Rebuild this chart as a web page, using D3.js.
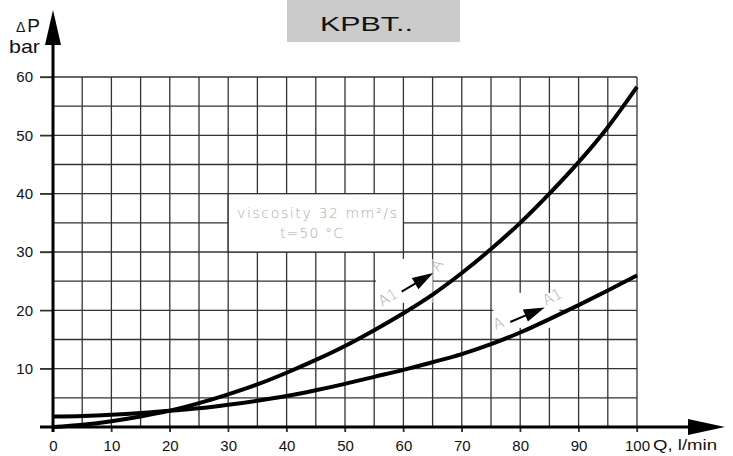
<!DOCTYPE html>
<html>
<head>
<meta charset="utf-8">
<title>KPBT.. pressure drop</title>
<script src="https://cdn.jsdelivr.net/npm/d3@7/dist/d3.min.js"></script>
<style>
    body {
        margin: 0;
        background-color: #fff;
    }

    svg {
        display: block;
        font-family: "Liberation Sans", Arial, sans-serif;
    }

    .grid line {
        stroke: #333;
        stroke-width: 1.3px;
    }

    .note {
        font-family: "DejaVu Sans", sans-serif;
        font-weight: 200;
        fill: #aaa;
    }
</style>
</head>
<body>
<svg width="733" height="456"></svg>
<script>
    // Q, l/min
    var flow = [0, 5, 10, 15, 20, 25, 30, 35, 40, 45, 50, 55, 60, 65, 70, 75, 80, 85, 90, 95, 100];
    // A1 -> A (steeper curve), bar
    var dpA1A = [0, 0.4, 1.0, 1.8, 2.8, 4.1, 5.6, 7.3, 9.3, 11.5, 13.9, 16.6, 19.5, 22.7, 26.4, 30.5, 35.0, 40.0, 45.4, 51.4, 58.3];
    // A -> A1, bar
    var dpAA1 = [1.8, 1.9, 2.1, 2.4, 2.8, 3.2, 3.8, 4.5, 5.3, 6.3, 7.4, 8.6, 9.8, 11.1, 12.5, 14.2, 16.2, 18.5, 20.9, 23.4, 26.0];

    var xTicks = [0, 10, 20, 30, 40, 50, 60, 70, 80, 90, 100];
    var yTicks = [10, 20, 30, 40, 50, 60];
    var gridX = d3.range(0, 101, 5);
    var gridY = d3.range(0, 61, 5);

    var titulo = "KPBT..";
    var notaLinhas = ["viscosity 32 mm²/s", "t=50 °C"];

    var svg = d3.select("svg");

    var x = d3.scaleLinear().domain([0, 100]).range([53, 637]);
    var y = d3.scaleLinear().domain([0, 60]).range([427, 77]);

    // titulo
    svg.append("rect")
        .attr("x", 287).attr("y", 0)
        .attr("width", 173).attr("height", 42)
        .attr("fill", "#cbcbcb");
    svg.append("text")
        .attr("x", 320).attr("y", 31)
        .attr("font-size", 21)
        .attr("textLength", 93)
        .attr("lengthAdjust", "spacingAndGlyphs")
        .attr("fill", "#111")
        .text(titulo);

    // grade
    var grid = svg.append("g").attr("class", "grid");
    grid.selectAll(".v")
        .data(gridX.slice(1))
        .enter().append("line")
        .attr("x1", function (d) { return x(d); })
        .attr("x2", function (d) { return x(d); })
        .attr("y1", y(60))
        .attr("y2", function (d) { return d % 10 == 0 ? y(0) + 5 : y(0); });
    grid.selectAll(".h")
        .data(gridY.slice(1))
        .enter().append("line")
        .attr("x1", function (d) { return d % 10 == 0 ? x(0) - 13 : x(0); })
        .attr("x2", x(100))
        .attr("y1", function (d) { return y(d); })
        .attr("y2", function (d) { return y(d); });

    // caixa da viscosidade (tampa a grade por dentro)
    svg.append("rect")
        .attr("x", x(30)).attr("y", y(40))
        .attr("width", x(60) - x(30)).attr("height", y(30) - y(40))
        .attr("fill", "#fff")
        .attr("stroke", "#333")
        .attr("stroke-width", 1.3);
    svg.append("text")
        .attr("class", "note")
        .attr("x", 237).attr("y", 218)
        .attr("font-size", 14)
        .attr("textLength", 160)
        .attr("lengthAdjust", "spacing")
        .text(notaLinhas[0]);
    svg.append("text")
        .attr("class", "note")
        .attr("x", 280).attr("y", 238)
        .attr("font-size", 14)
        .attr("textLength", 63)
        .attr("lengthAdjust", "spacing")
        .text(notaLinhas[1]);

    // fundo branco atras das setas
    var fundos = [
        { q0: 55.3, q1: 65.0, p0: 21.3, p1: 28.8 },
        { q0: 75.4, q1: 86.7, p0: 17.0, p1: 23.0 }
    ];
    svg.selectAll(".fundo")
        .data(fundos)
        .enter().append("rect")
        .attr("x", function (d) { return x(d.q0); })
        .attr("y", function (d) { return y(d.p1); })
        .attr("width", function (d) { return x(d.q1) - x(d.q0); })
        .attr("height", function (d) { return y(d.p0) - y(d.p1); })
        .attr("fill", "#fff");

    // eixos
    var eixoX = svg.append("g")
        .attr("transform", "translate(0," + y(0) + ")")
        .call(d3.axisBottom(x).tickValues(xTicks).tickSize(5).tickPadding(8));
    eixoX.select(".domain").remove();
    eixoX.selectAll("line").attr("stroke", "#333").attr("stroke-width", 1.3);
    eixoX.attr("font-size", 15).attr("font-family", "Liberation Sans, Arial, sans-serif");
    eixoX.selectAll("text").attr("fill", "#111");

    var eixoY = svg.append("g")
        .attr("transform", "translate(" + x(0) + ",0)")
        .call(d3.axisLeft(y).tickValues(yTicks).tickSize(13).tickPadding(7));
    eixoY.select(".domain").remove();
    eixoY.selectAll("line").attr("stroke", "#333").attr("stroke-width", 1.3);
    eixoY.attr("font-size", 15).attr("font-family", "Liberation Sans, Arial, sans-serif");
    eixoY.selectAll("text").attr("fill", "#111");

    svg.append("line")
        .attr("x1", 40).attr("x2", 695)
        .attr("y1", y(0)).attr("y2", y(0))
        .attr("stroke", "#000").attr("stroke-width", 3);
    svg.append("path")
        .attr("d", "M688," + (y(0) - 8) + "L725," + y(0) + "L688," + (y(0) + 8) + "Z")
        .attr("fill", "#000");
    svg.append("line")
        .attr("x1", x(0)).attr("x2", x(0))
        .attr("y1", y(0) + 5).attr("y2", 40)
        .attr("stroke", "#000").attr("stroke-width", 3);
    svg.append("path")
        .attr("d", "M" + (x(0) - 8) + ",45L" + x(0) + ",10L" + (x(0) + 8) + ",45Z")
        .attr("fill", "#000");

    svg.append("text")
        .attr("x", 653).attr("y", 450)
        .attr("font-size", 15).attr("fill", "#111")
        .attr("textLength", 64)
        .attr("lengthAdjust", "spacingAndGlyphs")
        .text("Q, l/min");

    var rotulo = svg.append("text")
        .attr("x", 40).attr("y", 32)
        .attr("text-anchor", "end")
        .attr("font-size", 19).attr("fill", "#111");
    rotulo.append("tspan").attr("font-size", 14).text("\u0394");
    rotulo.append("tspan").attr("dx", 2).text("P");
    svg.append("text")
        .attr("x", 9).attr("y", 53)
        .attr("font-size", 19).attr("fill", "#111")
        .attr("textLength", 31)
        .attr("lengthAdjust", "spacingAndGlyphs")
        .text("bar");

    // curvas
    var linha = d3.line()
        .x(function (d) { return x(d[0]); })
        .y(function (d) { return y(d[1]); })
        .curve(d3.curveMonotoneX);

    [dpA1A, dpAA1].forEach(function (serie) {
        svg.append("path")
            .datum(flow.map(function (q, i) { return [q, serie[i]]; }))
            .attr("d", linha)
            .attr("fill", "none")
            .attr("stroke", "#000")
            .attr("stroke-width", 4)
            .attr("stroke-linejoin", "round");
    });

    // setas de sentido
    var setas = [
        { q0: 59.7, p0: 23.2, q1: 65.1, p1: 26.4, de: "A1", para: "A", rotDe: -32, rotPara: -58, dxDe: -11, dyDe: 10, dxPara: 8, dyPara: -5 },
        { q0: 78.3, p0: 18.0, q1: 84.2, p1: 20.5, de: "A", para: "A1", rotDe: -22, rotPara: -28, dxDe: -10, dyDe: 6, dxPara: 10, dyPara: -6 }
    ];

    setas.forEach(function (s) {
        var x0 = x(s.q0), y0 = y(s.p0), x1 = x(s.q1), y1 = y(s.p1);
        var ang = Math.atan2(y1 - y0, x1 - x0);
        var len = Math.hypot(x1 - x0, y1 - y0);
        var g = svg.append("g")
            .attr("transform", "translate(" + x0 + "," + y0 + ") rotate(" + (ang * 180 / Math.PI) + ")");
        g.append("line")
            .attr("x1", 0).attr("x2", len - 18)
            .attr("y1", 0).attr("y2", 0)
            .attr("stroke", "#000").attr("stroke-width", 2);
        g.append("path")
            .attr("d", "M" + (len - 21) + ",-6.5L" + len + ",0L" + (len - 21) + ",6.5Z")
            .attr("fill", "#000");

        svg.append("text")
            .attr("class", "note")
            .attr("font-size", 15)
            .attr("text-anchor", "middle")
            .attr("transform", "translate(" + (x0 + s.dxDe) + "," + (y0 + s.dyDe) + ") rotate(" + s.rotDe + ")")
            .text(s.de);
        svg.append("text")
            .attr("class", "note")
            .attr("font-size", 15)
            .attr("text-anchor", "middle")
            .attr("transform", "translate(" + (x1 + s.dxPara) + "," + (y1 + s.dyPara) + ") rotate(" + s.rotPara + ")")
            .text(s.para);
    });
</script>
</body>
</html>
